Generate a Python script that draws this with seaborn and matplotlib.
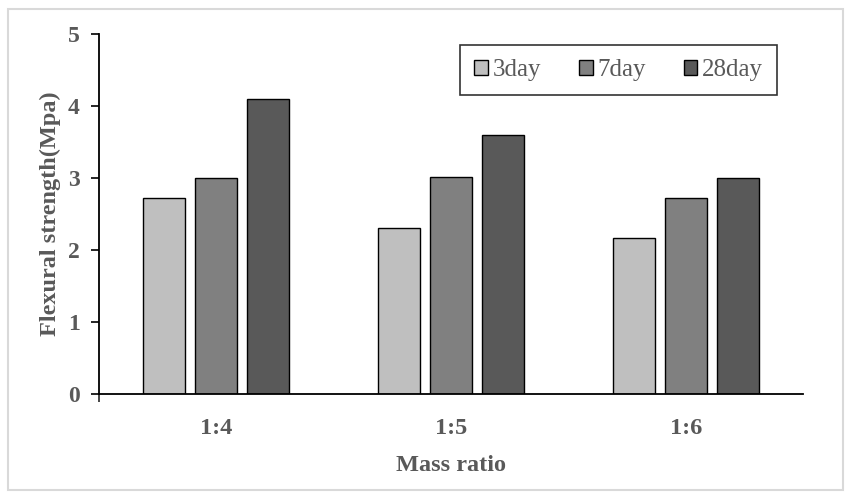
import matplotlib.pyplot as plt
import seaborn as sns
import pandas as pd
from matplotlib.patches import Rectangle

# data
ratios = ['1:4', '1:5', '1:6']
ages = ['3day', '7day', '28day']
day3 = [2.72, 2.30, 2.17]
day7 = [3.00, 3.02, 2.72]
day28 = [4.10, 3.60, 3.00]

df = pd.DataFrame({
    'ratio': ratios * 3,
    'age': [a for a in ages for _ in ratios],
    'value': day3 + day7 + day28,
})

sns.set_style('white')
plt.rcParams['font.family'] = ['Liberation Serif', 'DejaVu Serif']

TEXT = '#595959'
palette = ['#bfbfbf', '#808080', '#595959']

fig = plt.figure(figsize=(8.51, 4.98), dpi=100)
ax = fig.add_axes([0.1163, 0.2088, 0.8273, 0.7229])

sns.barplot(data=df, x='ratio', y='value', hue='age', order=ratios, hue_order=ages,
            palette=palette, width=0.665, gap=0.19, edgecolor='black', linewidth=1,
            saturation=1, ax=ax, legend=True)

ax.set_xlim(-0.5, 2.5)
ax.set_ylim(0, 5)
ax.set_yticks(range(6))
ax.set_yticklabels([str(i) for i in range(6)], fontsize=17, fontweight='bold', color=TEXT)
ax.set_xticks(range(3))
ax.set_xticklabels(ratios, fontsize=17.5, fontweight='bold', color=TEXT)
ax.tick_params(axis='x', length=0, pad=17)
ax.tick_params(axis='y', direction='out', length=6, width=1.2, color='black', left=True, pad=8)
ax.set_xticks([-0.5], minor=True)
ax.tick_params(axis='x', which='minor', direction='out', length=6, width=1.2, bottom=True)

for side in ['top', 'right']:
    ax.spines[side].set_visible(False)
for side in ['left', 'bottom']:
    ax.spines[side].set_color('black')
    ax.spines[side].set_linewidth(1.3)

ax.set_xlabel('Mass ratio', fontsize=17.5, fontweight='bold', color=TEXT, labelpad=12)
ax.set_ylabel('Flexural strength(Mpa)', fontsize=17.5, fontweight='bold', color=TEXT, labelpad=5)

handles, labels = ax.get_legend_handles_labels()
ax.get_legend().remove()
leg = fig.legend(handles, labels, ncol=3, loc='center', bbox_to_anchor=(0.727, 0.859),
                 frameon=True, fancybox=False, edgecolor='black', fontsize=18,
                 handlelength=0.55, handleheight=0.55, handletextpad=0.2, columnspacing=1.5,
                 borderpad=0.55)
leg.get_frame().set_linewidth(1.2)
for t in leg.get_texts():
    t.set_color(TEXT)

# light grey outer border
fig.patches.append(Rectangle((0.0094, 0.016), 0.981, 0.966, transform=fig.transFigure,
                             fill=False, edgecolor='#d9d9d9', linewidth=1.5))

fig.savefig('out.png', dpi=100)
